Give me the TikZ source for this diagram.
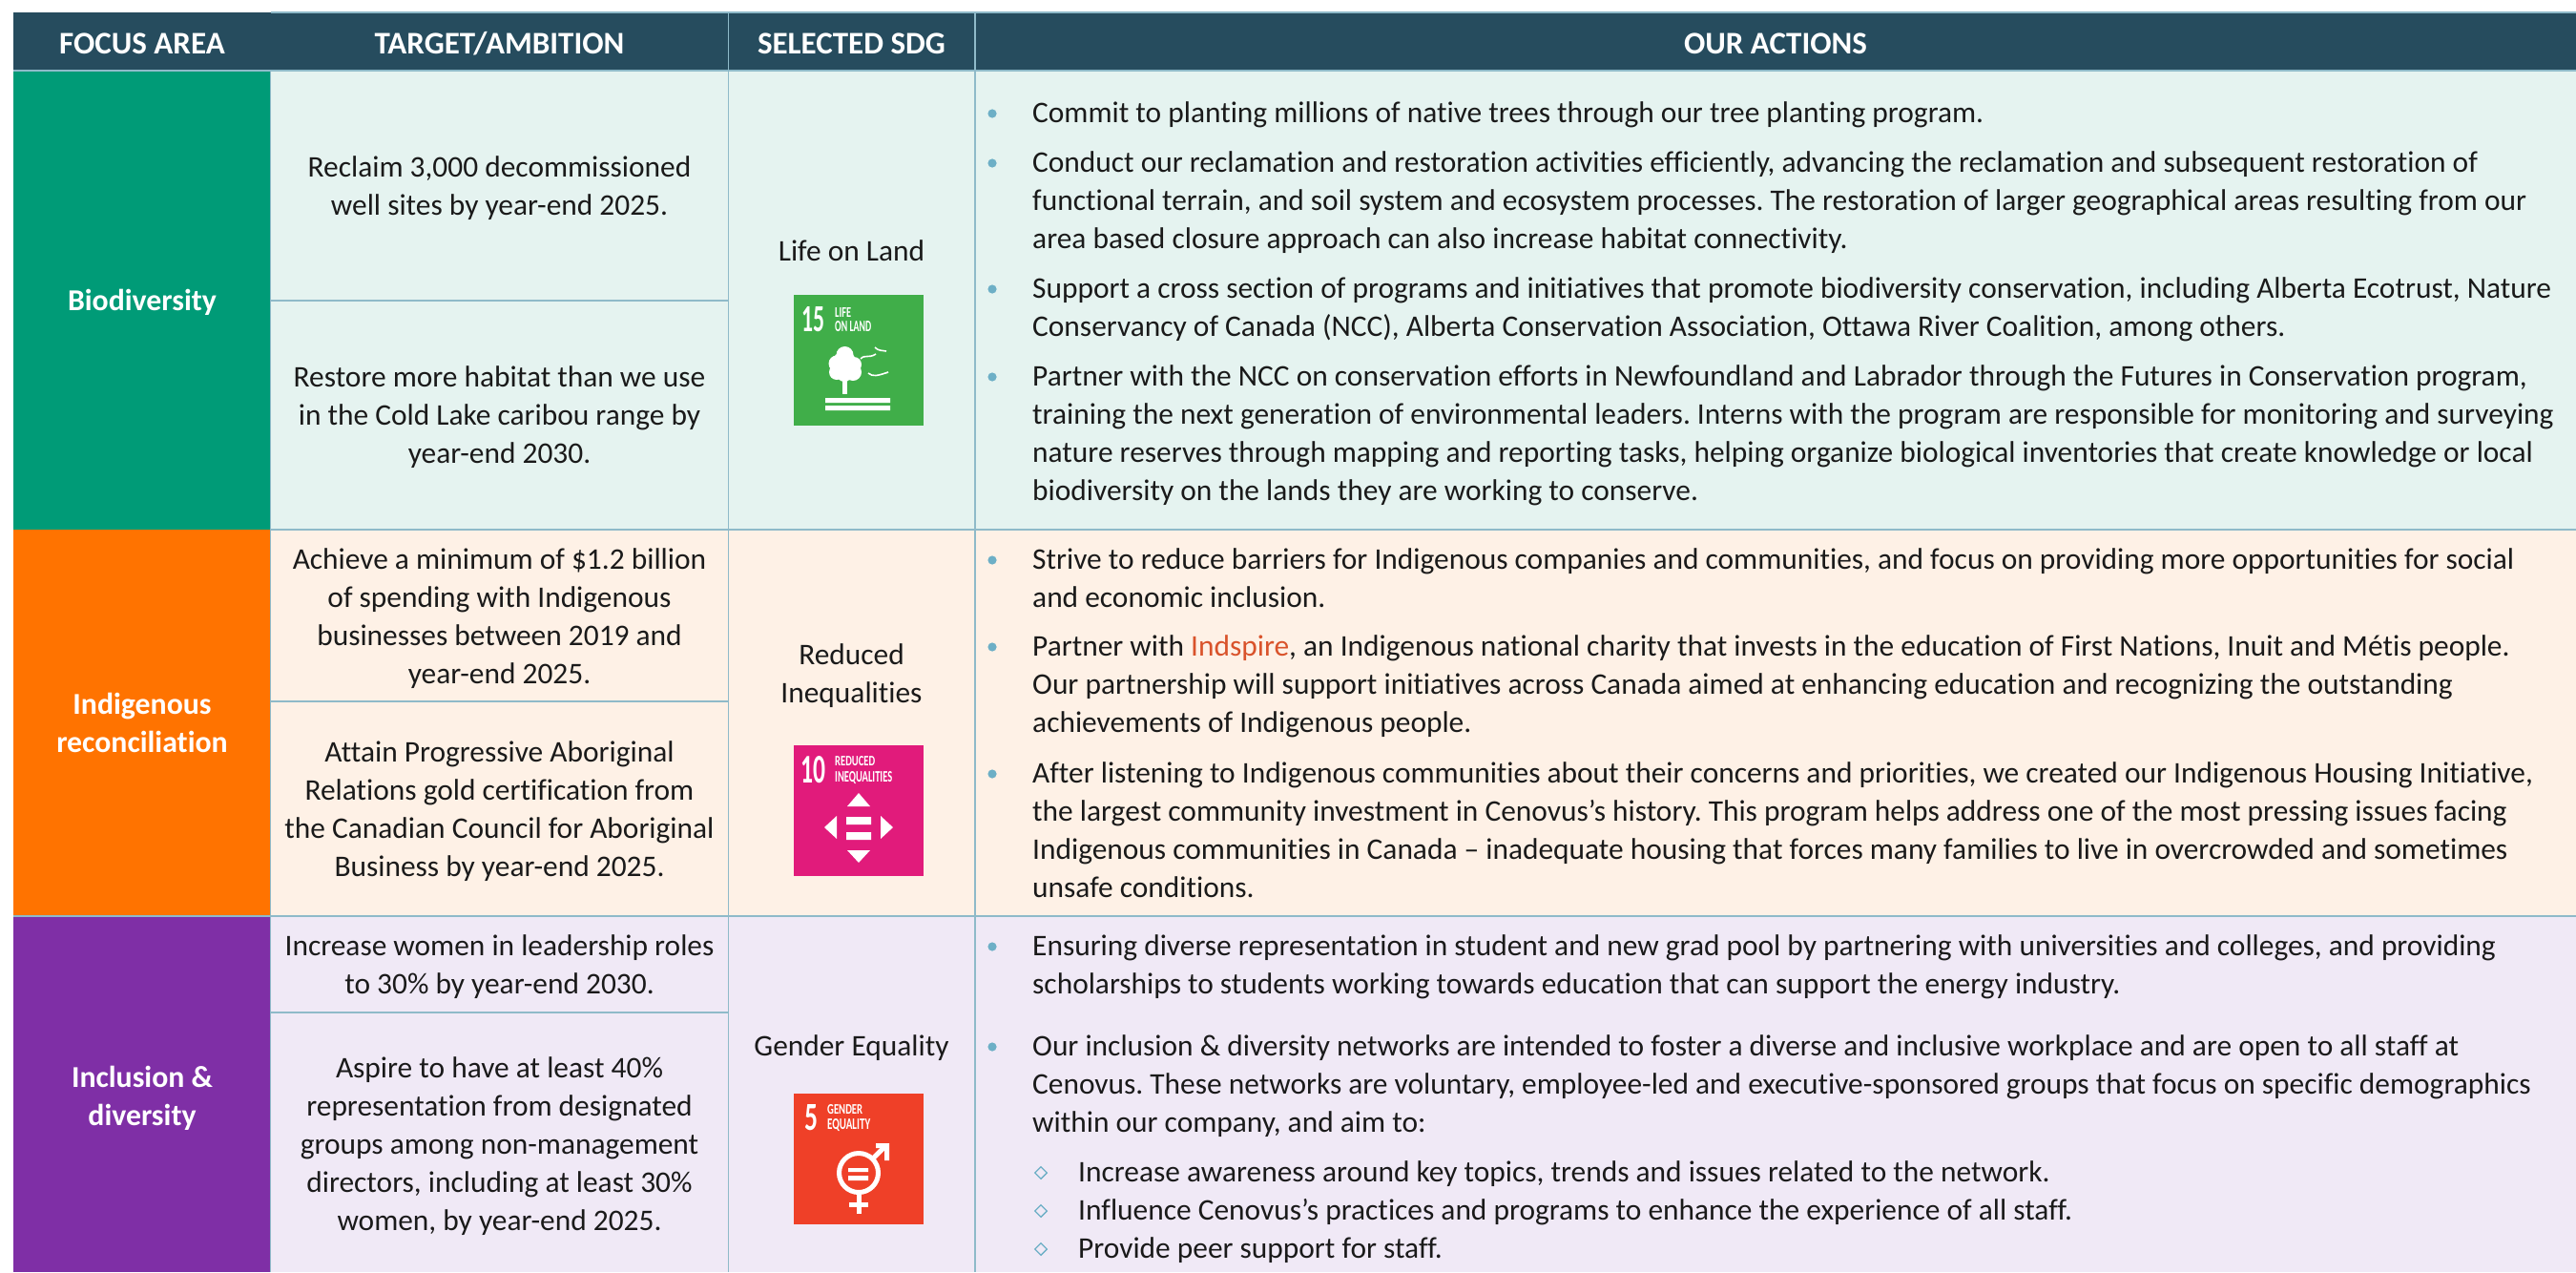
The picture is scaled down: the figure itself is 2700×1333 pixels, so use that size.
\documentclass[tikz,border=0pt]{standalone}
\usepackage{graphicx}
\usepackage{fontspec}
\setmainfont{Carlito}[Ligatures={NoCommon}]
\frenchspacing
\definecolor{hdr}{HTML}{264C5E}
\definecolor{gridl}{HTML}{8FBAC9}
\definecolor{bul}{HTML}{6DAFC6}
\definecolor{fgreen}{HTML}{009B77}
\definecolor{forange}{HTML}{FF7300}
\definecolor{fpurple}{HTML}{7F2FA6}
\definecolor{pgreen}{HTML}{E5F3F0}
\definecolor{porange}{HTML}{FEF1E6}
\definecolor{ppurple}{HTML}{F0E9F6}
\definecolor{ink}{HTML}{1A1A1A}
\definecolor{linkc}{HTML}{D9532B}
\definecolor{sdgg}{HTML}{40AE49}
\definecolor{sdgp}{HTML}{E11B7B}
\definecolor{sdgr}{HTML}{EF4028}
\newcommand{\lpar}[1]{\begin{tabular}[t]{@{}l@{}}#1\end{tabular}}
\newcommand{\cpar}[1]{\begin{tabular}[t]{@{}c@{}}#1\end{tabular}}
\tikzset{
 body/.style={inner sep=0pt,text=ink,font=\fontsize{31.4}{40}\selectfont,yshift=-9.5pt},
 actpara/.style={body,anchor=base west},
 cellpara/.style={body,anchor=base},
 headtxt/.style={inner sep=0pt,text=white,font=\fontsize{33}{36}\selectfont\bfseries},
 focustxt/.style={inner sep=0pt,text=white,anchor=base,yshift=-9.5pt,font=\fontsize{31.8}{40}\selectfont\bfseries},
 gridline/.style={draw=gridl,line width=1.5pt},
 bullet/.style={fill=bul},
 subbullet/.style={draw=bul,line width=1.3pt,fill=none},
 icotxt/.style={inner sep=0pt,text=white,anchor=west,font=\bfseries},
 icoshape/.style={fill=white,draw=none},
}
\newcommand{\bdot}[1]{\fill[bullet] (1040,#1) circle (4.6pt);}
\newcommand{\bdia}[1]{\draw[subbullet] (1091,#1) ++(-6.3,0) -- ++(6.3,-6.3) -- ++(6.3,6.3) -- ++(-6.3,6.3) -- cycle;}
\begin{document}
\begin{tikzpicture}[x=1pt,y=-1pt]
\useasboundingbox (0,0) rectangle (2700,1333);
\fill[white] (0,0) rectangle (2700,1333);
% header
\fill[hdr] (14,13) rectangle (2700,74);
% rows
\fill[fgreen] (14,74) rectangle (283.5,555);
\fill[forange] (14,555) rectangle (283.5,960);
\fill[fpurple] (14,960) rectangle (283.5,1333);
\fill[pgreen] (283.5,74) rectangle (2700,555);
\fill[porange] (283.5,555) rectangle (2700,960);
\fill[ppurple] (283.5,960) rectangle (2700,1333);
% grid
\draw[gridline] (283.5,13) -- (2700,13);
\draw[gridline] (14,74) -- (2700,74);
\draw[gridline] (283.5,555) -- (2700,555);
\draw[gridline] (14,960) -- (2700,960);
\draw[gridline] (283.5,74) -- (283.5,1333);
\draw[gridline] (763.5,13) -- (763.5,1333);
\draw[gridline] (1022,13) -- (1022,1333);
\draw[gridline] (283.5,315) -- (763.5,315);
\draw[gridline] (283.5,735) -- (763.5,735);
\draw[gridline] (283.5,1061) -- (763.5,1061);
% header text
\node[headtxt] (h1) at (149,46) {FOCUS AREA};
\node[headtxt] (h2) at (523.5,46) {TARGET/AMBITION};
\node[headtxt] (h3) at (892.5,46) {SELECTED SDG};
\node[headtxt] (h4) at (1861,46) {OUR ACTIONS};
% focus
\node[focustxt] (f1) at (149,316) {Biodiversity};
\node[focustxt] (f2) at (149,739) {\cpar{Indigenous\\reconciliation}};
\node[focustxt] (f3) at (149,1130) {\cpar{Inclusion \&\\diversity}};
% targets
\node[cellpara] (t1) at (523.5,176) {\cpar{Reclaim 3,000 decommissioned\\well sites by year-end 2025.}};
\node[cellpara] (t2) at (523.5,396) {\cpar{Restore more habitat than we use\\in the Cold Lake caribou range by\\year-end 2030.}};
\node[cellpara] (t3) at (523.5,587) {\cpar{Achieve a minimum of \$1.2 billion\\of spending with Indigenous\\businesses between 2019 and\\year-end 2025.}};
\node[cellpara] (t4) at (523.5,789) {\cpar{Attain Progressive Aboriginal\\Relations gold certification from\\the Canadian Council for Aboriginal\\Business by year-end 2025.}};
\node[cellpara] (t5) at (523.5,992) {\cpar{Increase women in leadership roles\\to 30\% by year-end 2030.}};
\node[cellpara] (t6) at (523.5,1120) {\cpar{Aspire to have at least 40\%\\representation from designated\\groups among non-management\\directors, including at least 30\%\\women, by year-end 2025.}};
% SDG labels
\node[cellpara] (s1) at (892.5,264) {Life on Land};
\node[cellpara] (s2) at (892.5,687) {\cpar{Reduced\\Inequalities}};
\node[cellpara] (s3) at (892.5,1097) {Gender Equality};
% actions
\bdot{119}\bdot{171}\bdot{303}\bdot{395}
\node[actpara] (a1) at (1082,119) {Commit to planting millions of native trees through our tree planting program.};
\node[actpara] (a2) at (1082,171) {\lpar{Conduct our reclamation and restoration activities efficiently, advancing the reclamation and subsequent restoration of\\functional terrain, and soil system and ecosystem processes. The restoration of larger geographical areas resulting from our\\area based closure approach can also increase habitat connectivity.}};
\node[actpara] (a3) at (1082,303) {\lpar{Support a cross section of programs and initiatives that promote biodiversity conservation, including Alberta Ecotrust, Nature\\Conservancy of Canada (NCC), Alberta Conservation Association, Ottawa River Coalition, among others.}};
\node[actpara] (a4) at (1082,395) {\lpar{Partner with the NCC on conservation efforts in Newfoundland and Labrador through the Futures in Conservation program,\\training the next generation of environmental leaders. Interns with the program are responsible for monitoring and surveying\\nature reserves through mapping and reporting tasks, helping organize biological inventories that create knowledge or local\\biodiversity on the lands they are working to conserve.}};
\bdot{587}\bdot{678}\bdot{811}
\node[actpara] (b1) at (1082,587) {\lpar{Strive to reduce barriers for Indigenous companies and communities, and focus on providing more opportunities for social\\and economic inclusion.}};
\node[actpara] (b2) at (1082,678) {\lpar{Partner with \textcolor{linkc}{Indspire}, an Indigenous national charity that invests in the education of First Nations, Inuit and Métis people.\\Our partnership will support initiatives across Canada aimed at enhancing education and recognizing the outstanding\\achievements of Indigenous people.}};
\node[actpara] (b3) at (1082,811) {\lpar{After listening to Indigenous communities about their concerns and priorities, we created our Indigenous Housing Initiative,\\the largest community investment in Cenovus’s history. This program helps address one of the most pressing issues facing\\Indigenous communities in Canada – inadequate housing that forces many families to live in overcrowded and sometimes\\unsafe conditions.}};
\bdot{992}\bdot{1097}
\node[actpara] (c1) at (1082,992) {\lpar{Ensuring diverse representation in student and new grad pool by partnering with universities and colleges, and providing\\scholarships to students working towards education that can support the energy industry.}};
\node[actpara] (c2) at (1082,1097) {\lpar{Our inclusion \& diversity networks are intended to foster a diverse and inclusive workplace and are open to all staff at\\Cenovus. These networks are voluntary, employee-led and executive-sponsored groups that focus on specific demographics\\within our company, and aim to:}};
\bdia{1229}\bdia{1269}\bdia{1309}
\node[actpara] (d1) at (1130,1229) {Increase awareness around key topics, trends and issues related to the network.};
\node[actpara] (d2) at (1130,1269) {Influence Cenovus’s practices and programs to enhance the experience of all staff.};
\node[actpara] (d3) at (1130,1309) {Provide peer support for staff.};
% icon 15
\fill[sdgg] (832,309) rectangle (968,446);
\node[icotxt] (n15) at (840,335) {\resizebox{24pt}{26pt}{15}};
\node[icotxt] (n15a) at (875,327) {\resizebox{17pt}{10pt}{LIFE}};
\node[icotxt] (n15b) at (875,342.5) {\resizebox{38pt}{11pt}{ON LAND}};
\fill[icoshape] (885.5,372) circle (9pt) (877,381) circle (8.5pt) (895,382) circle (8pt) (877,390) circle (8pt) (894,390) circle (9pt) (885,392) circle (8pt) (885,381) circle (13pt);
\fill[icoshape] (883,398) rectangle (888,413);
\fill[icoshape] (865,417) rectangle (933,422) (865,425) rectangle (933,430);
\draw[white,line width=1.6pt] (902,376) .. controls (907,371) and (910,376) .. (918,371);
\draw[white,line width=1.6pt] (917,364) .. controls (921,368) and (924,367) .. (929,368);
\draw[white,line width=1.6pt] (910,391) .. controls (915,395) and (919,394) .. (931,390);
% icon 10
\fill[sdgp] (832,781) rectangle (968,918);
\node[icotxt] (n10) at (839,807) {\resizebox{26pt}{28pt}{10}};
\node[icotxt] (n10a) at (875,798) {\resizebox{42pt}{10pt}{REDUCED}};
\node[icotxt] (n10b) at (875,815) {\resizebox{60pt}{11pt}{INEQUALITIES}};
\fill[icoshape] (888,845) -- (912,845) -- (900,831) -- cycle;
\fill[icoshape] (888,891) -- (912,891) -- (900,904) -- cycle;
\fill[icoshape] (877,855) -- (877,879) -- (864,867) -- cycle;
\fill[icoshape] (923,855) -- (923,879) -- (936,867) -- cycle;
\fill[icoshape] (887,856) rectangle (913,864) (887,872) rectangle (913,880);
% icon 5
\fill[sdgr] (832,1146) rectangle (968,1283);
\node[icotxt] (n5) at (843,1171.5) {\resizebox{14pt}{27pt}{5}};
\node[icotxt] (n5a) at (867,1163) {\resizebox{37pt}{10pt}{GENDER}};
\node[icotxt] (n5b) at (867,1179.5) {\resizebox{45pt}{11pt}{EQUALITY}};
\draw[white,line width=5pt] (900,1229) circle (20.5pt);
\fill[icoshape] (889,1224) rectangle (910,1228) (889,1232) rectangle (910,1237);
\draw[white,line width=5pt] (915,1214) -- (929,1200);
\fill[icoshape] (918,1198) -- (932,1198) -- (932,1216) -- (927,1216) -- (927,1203) -- (918,1203) -- cycle;
\draw[white,line width=5pt] (900,1251) -- (900,1272);
\draw[white,line width=5pt] (890,1262) -- (910,1262);
\end{tikzpicture}
\end{document}
